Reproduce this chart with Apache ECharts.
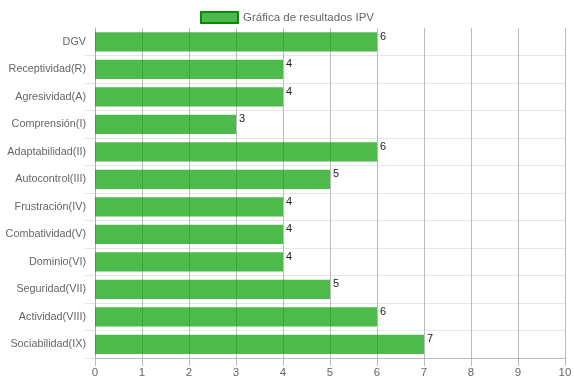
<!DOCTYPE html>
<html><head><meta charset="utf-8">
<script src="https://cdn.jsdelivr.net/npm/echarts@6/dist/echarts.min.js"></script>
<style>html,body{margin:0;padding:0;background:#fff}#c{width:574px;height:383px}</style>
</head><body><div id="c"></div>
<script>
const categories = ["DGV","Receptividad(R)","Agresividad(A)","Comprensión(I)","Adaptabilidad(II)","Autocontrol(III)","Frustración(IV)","Combatividad(V)","Dominio(VI)","Seguridad(VII)","Actividad(VIII)","Sociabilidad(IX)"];
const values = [6,4,4,3,6,5,4,4,4,5,6,7];
const seriesName = "Gráfica de resultados IPV";
const xMin = 0, xMax = 10, xStep = 1;

const skipFirst = (i) => i !== 0;
const chart = echarts.init(document.getElementById('c'), null, {renderer:'canvas'});
chart.setOption({
  animation:false,
  textStyle:{fontFamily:'Liberation Sans, Arial, sans-serif'},
  legend:{
    top:6, left:'center', itemWidth:37, itemHeight:11, itemGap:7,
    icon:'rect',
    textStyle:{color:'#666', fontSize:11.5, fontFamily:'Liberation Sans, Arial, sans-serif'},
    itemStyle:{borderColor:'#0a8a0a', borderWidth:2}
  },
  grid:{left:95, right:9, top:28, bottom:25, containLabel:false, outerBoundsMode:'none'},
  xAxis:{
    type:'value', min:xMin, max:xMax, interval:xStep,
    axisLine:{show:true, lineStyle:{color:'#bbb'}},
    axisTick:{show:true, length:8, lineStyle:{color:'#bbb'}},
    axisLabel:{color:'#666', fontSize:11.5, margin:9},
    splitLine:{show:true, lineStyle:{color:'#bbb'}}
  },
  yAxis:{
    type:'category', data:categories, inverse:true,
    axisLine:{show:true, lineStyle:{color:'#aaa'}},
    axisTick:{show:true, length:10, interval:skipFirst, lineStyle:{color:'#e6e6e6'}},
    axisLabel:{color:'#666', fontSize:10.8, margin:9},
    splitLine:{show:true, interval:skipFirst, lineStyle:{color:'#e6e6e6'}}
  },
  series:[{
    name:seriesName, type:'bar', data:values, barWidth:'70%',
    itemStyle:{color:'rgba(0,158,0,0.7)'},
    label:{show:true, position:['100%',0], offset:[3,-1], align:'left', verticalAlign:'top',
      color:'#222', fontSize:11, fontFamily:'Liberation Sans, Arial, sans-serif'}
  }]
});
</script></body></html>
